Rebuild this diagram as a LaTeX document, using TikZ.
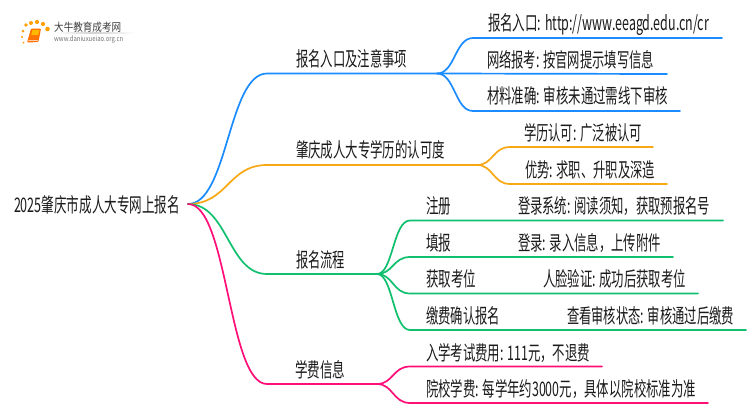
\documentclass[tikz,border=0pt]{standalone}
\usepackage{fontspec}
\usepackage{graphicx}
\setmainfont{Noto Sans CJK SC}
\definecolor{cblue}{HTML}{1A8CFF}
\definecolor{corange}{HTML}{F7A813}
\definecolor{cgreen}{HTML}{10C06E}
\definecolor{cpink}{HTML}{FF0F77}
\definecolor{ctext}{HTML}{1A1A1A}
\newcommand{\fitw}[2]{\resizebox{#1pt}{1.18\height}{#2}}
\tikzset{
  lab/.style={anchor=base west,inner sep=0pt,outer sep=0pt,text=ctext,font=\fontsize{17}{20}\selectfont},
  branch/.style={line width=1.7pt,line cap=round},
  dot/.style={circle,inner sep=0pt,fill=#1,draw=none},
  logocn/.style={anchor=base west,inner sep=0pt,text=black!75,font=\fontsize{9.5}{11}\selectfont},
  logoen/.style={anchor=base west,inner sep=0pt,text=black!55,font=\fontsize{6}{7}\selectfont}
}
\begin{document}
\begin{tikzpicture}[x=1pt,y=-1pt]
\useasboundingbox (0,0) rectangle (750,410);
\fill[white] (0,0) rectangle (750,410);
% logo
\shade[left color=white,right color=white,middle color=black!18] (54,32.6) rectangle (135,33.4);
\foreach \n/\x/\y/\s in {a/26/25/3.6,b/31/23/4,c/37/22/4.2,d/43/24/4.2,e/47.5/29/4.6,f/23/31/3,g/22/37/2.4,h/23.5/42.5/2}{
  \node[dot=orange!75!yellow,minimum size=\s pt] (logodot\n) at (\x,\y) {};
}
\fill[orange!90!red,rounded corners=1pt] (31,28.5) -- (41,28.5) -- (38.5,42) -- (27,42.5) -- cycle;
\fill[orange!55!yellow] (32.5,30) -- (39.5,30) -- (38.2,35) -- (31.2,35) -- cycle;
\draw[white,line width=.5pt] (27.8,40.8) -- (38.2,40.4);
\node[logocn] (logotitle) at (54,31) {\fitw{67}{大牛教育成考网}};
\node[logoen] (logourl) at (54,41) {\fitw{69}{www.daniuxueiao.org.cn}};
% text
\node[lab] (root) at (14,212.5) {\fitw{166}{2025肇庆市成人大专网上报名}};
\node[lab] (n1) at (296,66) {\fitw{111}{报名入口及注意事项}};
\node[lab] (n2) at (296,157) {\fitw{149}{肇庆成人大专学历的认可度}};
\node[lab] (n3) at (296,267) {\fitw{49}{报名流程}};
\node[lab] (n4) at (295,377) {\fitw{50}{学费信息}};
\node[lab] (n11) at (488,30) {\fitw{221}{报名入口: http://www.eeagd.edu.cn/cr}};
\node[lab] (n12) at (487,67) {\fitw{167}{网络报考: 按官网提示填写信息}};
\node[lab] (n13) at (487,103) {\fitw{181}{材料准确: 审核未通过需线下审核}};
\node[lab] (n21) at (524,140) {\fitw{118}{学历认可: 广泛被认可}};
\node[lab] (n22) at (525,177) {\fitw{130}{优势: 求职、升职及深造}};
\node[lab] (n31) at (426,213) {\fitw{25}{注册}};
\node[lab] (n31a) at (518,213) {\fitw{192}{登录系统: 阅读须知，获取预报名号}};
\node[lab] (n32) at (426,250) {\fitw{25}{填报}};
\node[lab] (n32a) at (518,250) {\fitw{143}{登录: 录入信息，上传附件}};
\node[lab] (n33) at (426,286) {\fitw{50}{获取考位}};
\node[lab] (n33a) at (543,286) {\fitw{143}{人脸验证: 成功后获取考位}};
\node[lab] (n34) at (426,323) {\fitw{74}{缴费确认报名}};
\node[lab] (n34a) at (567,323) {\fitw{167}{查看审核状态: 审核通过后缴费}};
\node[lab] (n41) at (426,360) {\fitw{164}{入学考试费用: 111元，不退费}};
\node[lab] (n42) at (426,396) {\fitw{270}{院校学费: 每学年约3000元，具体以院校标准为准}};
% connector points
\coordinate (r) at (188,204);
\coordinate (b0) at (267,73.5); \coordinate (b1) at (437,73.5);
\coordinate (o0) at (267,165); \coordinate (o1) at (477,165);
\coordinate (g0) at (267,274); \coordinate (g1) at (377,274);
\coordinate (p0) at (267,384); \coordinate (p1) at (377,384);
\coordinate (b1a) at (473,38); \coordinate (b1e) at (722,38);
\coordinate (b2e) at (667,74);
\coordinate (b3a) at (473,111); \coordinate (b3e) at (680,111);
\coordinate (o1a) at (510,147); \coordinate (o1e) at (653,147);
\coordinate (o2a) at (510,184); \coordinate (o2e) at (667,184);
\coordinate (g1a) at (410,220.5); \coordinate (g1e) at (723,220.5);
\coordinate (g2a) at (410,257); \coordinate (g2e) at (673,257);
\coordinate (g3a) at (410,293.5); \coordinate (g3e) at (698,293.5);
\coordinate (g4a) at (410,330); \coordinate (g4e) at (746,330);
\coordinate (p1a) at (410,366.5); \coordinate (p1e) at (602,366.5);
\coordinate (p2a) at (410,403); \coordinate (p2e) at (708,403);
% blue
\begin{scope}[branch,draw=cblue]
\draw (r) .. controls (228,204) and (228,73.5) .. (b0) -- (b1);
\draw (b1) .. controls (455,73.5) and (455,38) .. (b1a) -- (b1e);
\draw (b1) -- (b2e);
\draw (b1) .. controls (455,73.5) and (455,111) .. (b3a) -- (b3e);
\end{scope}
% orange
\begin{scope}[branch,draw=corange]
\draw (r) .. controls (228,204) and (228,165) .. (o0) -- (o1);
\draw (o1) .. controls (493,165) and (493,147) .. (o1a) -- (o1e);
\draw (o1) .. controls (493,165) and (493,184) .. (o2a) -- (o2e);
\end{scope}
% green
\begin{scope}[branch,draw=cgreen]
\draw (r) .. controls (228,204) and (228,274) .. (g0) -- (g1);
\draw (g1) .. controls (393,274) and (393,220.5) .. (g1a) -- (g1e);
\draw (g1) .. controls (393,274) and (393,257) .. (g2a) -- (g2e);
\draw (g1) .. controls (393,274) and (393,293.5) .. (g3a) -- (g3e);
\draw (g1) .. controls (393,274) and (393,330) .. (g4a) -- (g4e);
\end{scope}
% pink
\begin{scope}[branch,draw=cpink]
\draw (r) .. controls (228,204) and (228,384) .. (p0) -- (p1);
\draw (p1) .. controls (393,384) and (393,366.5) .. (p1a) -- (p1e);
\draw (p1) .. controls (393,384) and (393,403) .. (p2a) -- (p2e);
\end{scope}
\end{tikzpicture}
\end{document}
